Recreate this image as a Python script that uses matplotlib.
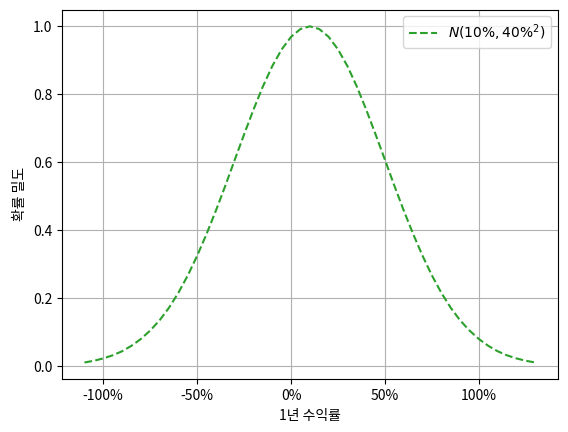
import matplotlib
matplotlib.use("Agg")
import matplotlib.pyplot as plt
from matplotlib.ticker import FuncFormatter

plt.rcParams['font.family'] = ['Noto Sans CJK KR', 'DejaVu Sans']

# 1-year return (%) and density
returns = [-110, -105, -100, -95, -90, -85, -80, -75, -70, -65, -60, -55, -50, -45, -40,
           -35, -30, -25, -20, -15, -10, -5, 0, 5, 10, 15, 20, 25, 30, 35, 40, 45, 50,
           55, 60, 65, 70, 75, 80, 85, 90, 95, 100, 105, 110, 115, 120, 125, 130]
density = [0.011, 0.016, 0.023, 0.032, 0.044, 0.060, 0.080, 0.105, 0.135, 0.172, 0.216,
           0.267, 0.325, 0.389, 0.458, 0.531, 0.607, 0.682, 0.755, 0.823, 0.883, 0.932,
           0.969, 0.992, 1.000, 0.992, 0.969, 0.932, 0.883, 0.823, 0.755, 0.682, 0.607,
           0.531, 0.458, 0.389, 0.325, 0.267, 0.216, 0.172, 0.135, 0.105, 0.080, 0.060,
           0.044, 0.032, 0.023, 0.016, 0.011]
xticks = [-100, -50, 0, 50, 100]

fig, ax = plt.subplots(figsize=(5.68, 4.32), dpi=100)
fig.subplots_adjust(left=0.109, right=0.982, top=0.978, bottom=0.122)

ax.plot(returns, density, "--", color="#2ca02c", label=r"$N(10\%, 40\%^2)$")
ax.set_xticks(xticks)
ax.xaxis.set_major_formatter(FuncFormatter(lambda v, p: f"{v:.0f}%"))
ax.grid()
ax.legend(loc="upper right")
ax.set_xlabel("1년 수익률")
ax.set_ylabel("확률 밀도")

fig.savefig("out.png")
